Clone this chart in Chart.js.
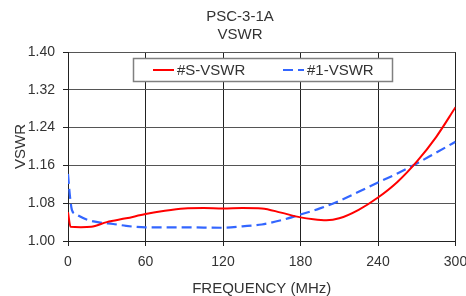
<!DOCTYPE html>
<html>
<head>
<meta charset="utf-8">
<script src="https://cdn.jsdelivr.net/npm/chart.js@4.4.1/dist/chart.umd.min.js"></script>
<style>
  html, body { margin: 0; padding: 0; background: #fff; }
  #grafica { display: block; }
</style>
</head>
<body>
<canvas id="grafica" width="466" height="296"></canvas>
<script>
/* -----------------------------
   DATOS
----------------------------- */
const titleLines = ["PSC-3-1A", "VSWR"];
const seriesNames = ["#S-VSWR", "#1-VSWR"];

const sFreq = [0, 2, 10, 18, 30, 45, 60, 75, 90, 105, 120, 135, 150, 165, 180, 190, 200, 210, 225, 240, 255, 270, 285, 300];
const sVswr = [1.061, 1.030, 1.029, 1.030, 1.040, 1.048, 1.057, 1.064, 1.069, 1.070, 1.069, 1.070, 1.069, 1.060, 1.050, 1.046, 1.044, 1.048, 1.066, 1.092, 1.125, 1.168, 1.220, 1.283];

const oneFreq = [0, 1.5, 3, 6, 15, 25, 35, 45, 60, 90, 120, 135, 150, 165, 180, 195, 210, 225, 240, 255, 270, 285, 300];
const oneVswr = [1.142, 1.095, 1.066, 1.057, 1.045, 1.039, 1.036, 1.032, 1.029, 1.029, 1.028, 1.031, 1.035, 1.044, 1.056, 1.069, 1.085, 1.104, 1.124, 1.143, 1.164, 1.187, 1.210];

const xTicks = [0, 60, 120, 180, 240, 300];
const yTicks = [1.00, 1.08, 1.16, 1.24, 1.32, 1.40];

const xTitle = "FREQUENCY (MHz)";
const yTitle = "VSWR";

/* -----------------------------
   ESTILO
----------------------------- */
const FONT = "'Liberation Sans', Arial, sans-serif";
const TEXT = "#333";
Chart.defaults.font.family = FONT;
Chart.defaults.color = TEXT;

function puntos(xs, ys) {
    return xs.map((x, i) => ({ x: x, y: ys[i] }));
}

/* -----------------------------
   PLUGINS: titulo y leyenda
----------------------------- */
const tituloPlugin = {
    id: "tituloPlugin",
    afterDraw(chart) {
        const ctx = chart.ctx;
        ctx.save();
        ctx.font = "15px " + FONT;
        ctx.fillStyle = TEXT;
        ctx.textAlign = "center";
        ctx.textBaseline = "middle";
        titleLines.forEach((t, i) => ctx.fillText(t, 240, 17 + i * 18));
        ctx.restore();
    }
};

const leyendaPlugin = {
    id: "leyendaPlugin",
    afterDatasetsDraw(chart) {
        const ctx = chart.ctx;
        const a = chart.chartArea;
        const bx = a.left + 65.5, by = a.top + 6.5, bw = 259, bh = 23;
        ctx.save();
        ctx.fillStyle = "#fff";
        ctx.fillRect(bx, by, bw, bh);
        ctx.strokeStyle = "#808080";
        ctx.lineWidth = 1.5;
        ctx.strokeRect(bx, by, bw, bh);

        const starts = [bx + 19.5, bx + 149.5];
        const cy = by + bh / 2;
        chart.data.datasets.forEach((ds, i) => {
            const x0 = starts[i];
            ctx.beginPath();
            ctx.strokeStyle = ds.borderColor;
            ctx.lineWidth = ds.borderWidth;
            ctx.setLineDash(ds.borderDash || []);
            ctx.moveTo(x0, cy);
            ctx.lineTo(x0 + 21, cy);
            ctx.stroke();
            ctx.setLineDash([]);
            ctx.font = "15px " + FONT;
            ctx.fillStyle = TEXT;
            ctx.textAlign = "left";
            ctx.textBaseline = "middle";
            ctx.fillText(ds.label, x0 + 24, cy + 0.5);
        });
        ctx.restore();
    }
};

/* -----------------------------
   GRAFICA
----------------------------- */
new Chart(document.getElementById("grafica"), {
    type: "line",
    data: {
        datasets: [
            {
                label: seriesNames[0],
                data: puntos(sFreq, sVswr),
                borderColor: "#ff0000",
                borderWidth: 2,
                cubicInterpolationMode: "monotone",
                pointRadius: 0,
                fill: false
            },
            {
                label: seriesNames[1],
                data: puntos(oneFreq, oneVswr),
                borderColor: "#3366ff",
                borderWidth: 2.2,
                borderDash: [10, 5],
                cubicInterpolationMode: "monotone",
                pointRadius: 0,
                fill: false
            }
        ]
    },
    options: {
        responsive: false,
        devicePixelRatio: 1,
        animation: false,
        layout: { padding: { top: 52, right: 10.5, left: 0, bottom: 0 } },
        plugins: {
            legend: { display: false },
            title: { display: false },
            tooltip: { enabled: false }
        },
        scales: {
            x: {
                type: "linear",
                min: 0,
                max: 300,
                afterBuildTicks: s => { s.ticks = xTicks.map(v => ({ value: v })); },
                afterFit: s => { s.height = 55; s.paddingLeft = 0; s.paddingRight = 0; },
                grid: { color: "#222", lineWidth: 1, tickLength: 5, tickColor: "#222" },
                border: { color: "#222", width: 1 },
                ticks: { padding: 8, maxRotation: 0, autoSkip: false, font: { size: 14 }, color: TEXT },
                title: {
                    display: true,
                    text: xTitle,
                    font: { size: 15, lineHeight: 1 },
                    padding: { top: 0, bottom: 0 },
                    color: TEXT
                }
            },
            y: {
                min: 1.0,
                max: 1.4,
                afterBuildTicks: s => { s.ticks = yTicks.map(v => ({ value: v })); },
                afterFit: s => { s.width = 68; },
                grid: { color: "#555", lineWidth: 1, tickLength: 5, tickColor: "#222" },
                border: { color: "#222", width: 1 },
                ticks: {
                    padding: 8,
                    autoSkip: false,
                    font: { size: 14 },
                    color: TEXT,
                    callback: v => Number(v).toFixed(2)
                },
                title: {
                    display: true,
                    text: yTitle,
                    font: { size: 15, lineHeight: 1 },
                    padding: { top: 13.5, bottom: 0 },
                    color: TEXT
                }
            }
        }
    },
    plugins: [tituloPlugin, leyendaPlugin]
});
</script>
</body>
</html>
